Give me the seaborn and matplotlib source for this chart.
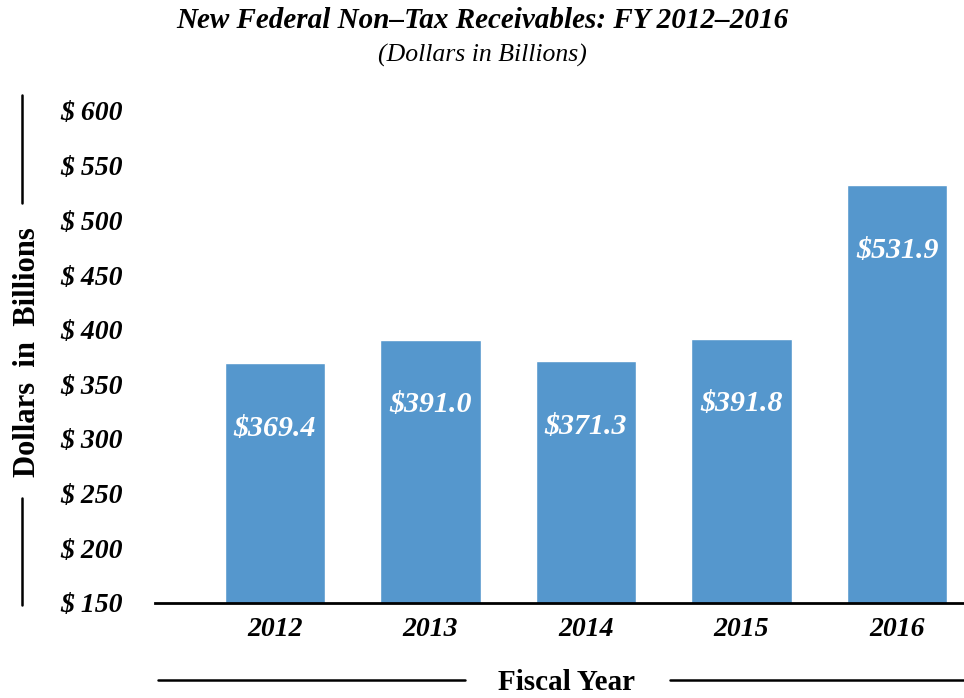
import numpy as np
import pandas as pd
import seaborn as sns
import matplotlib.pyplot as plt
from matplotlib.lines import Line2D

# data
years = ['2012', '2013', '2014', '2015', '2016']
receivables = [369.4, 391.0, 371.3, 391.8, 531.9]
yticks = [150, 200, 250, 300, 350, 400, 450, 500, 550, 600]

sns.set_theme(style='white')
plt.rcParams['font.family'] = ['Liberation Serif', 'DejaVu Serif']
plt.rcParams['text.color'] = 'black'
plt.rcParams['xtick.color'] = 'black'
plt.rcParams['ytick.color'] = 'black'

df = pd.DataFrame({'year': years, 'value': receivables})

fig = plt.figure(figsize=(9.64, 6.98), dpi=100)
ax = fig.add_axes([155/964, 1-603/698, 1-155/964, (603-111)/698])

sns.barplot(data=df, x='year', y='value', color='#5597CD', width=0.645,
            saturation=1, ax=ax)

ax.set_ylim(150, 600)
ax.set_xlim(-0.77, 4.43)
ax.set_yticks(yticks)
ax.set_yticklabels(['$ %d' % t for t in yticks], fontsize=20, fontweight='bold',
                   fontstyle='italic', ha='left')
ax.tick_params(axis='y', length=0, pad=68)
ax.tick_params(axis='x', length=0, pad=10)
for lab in ax.get_xticklabels():
    lab.set_fontsize(20)
    lab.set_fontweight('bold')
    lab.set_fontstyle('italic')
ax.set_xlabel('')
ax.set_ylabel('')

for s in ['top', 'right', 'left']:
    ax.spines[s].set_visible(False)
ax.spines['bottom'].set_color('black')
ax.spines['bottom'].set_linewidth(2)

# value labels inside bars
for i, v in enumerate(receivables):
    ax.annotate('$%.1f' % v, (i, v), xytext=(0, -47), textcoords='offset points',
                ha='center', va='center', color='white', fontsize=21.5,
                fontweight='bold', fontstyle='italic')

fig.text(0.5, 1-21/698, 'New Federal Non–Tax Receivables: FY 2012–2016',
         ha='center', va='center', fontsize=21, fontweight='bold', fontstyle='italic')
fig.text(0.5, 1-55/698, '(Dollars in Billions)', ha='center', va='center',
         fontsize=18.5, fontstyle='italic')

# y axis title with lines
fig.text(28/964, 1-352/698, 'Dollars  in  Billions', rotation=90, ha='center',
         va='center', fontsize=22, fontweight='bold')
fig.add_artist(Line2D([22/964, 22/964], [1-95/698, 1-203/698], color='black', lw=1.8))
fig.add_artist(Line2D([22/964, 22/964], [1-498/698, 1-605/698], color='black', lw=1.8))

# x axis title with lines
fig.text(567/964, 1-682/698, 'Fiscal Year', ha='center', va='center',
         fontsize=21, fontweight='bold')
fig.add_artist(Line2D([158/964, 465/964], [1-680/698, 1-680/698], color='black', lw=1.8))
fig.add_artist(Line2D([670/964, 964/964], [1-680/698, 1-680/698], color='black', lw=1.8))

fig.savefig('out.png', dpi=100)
